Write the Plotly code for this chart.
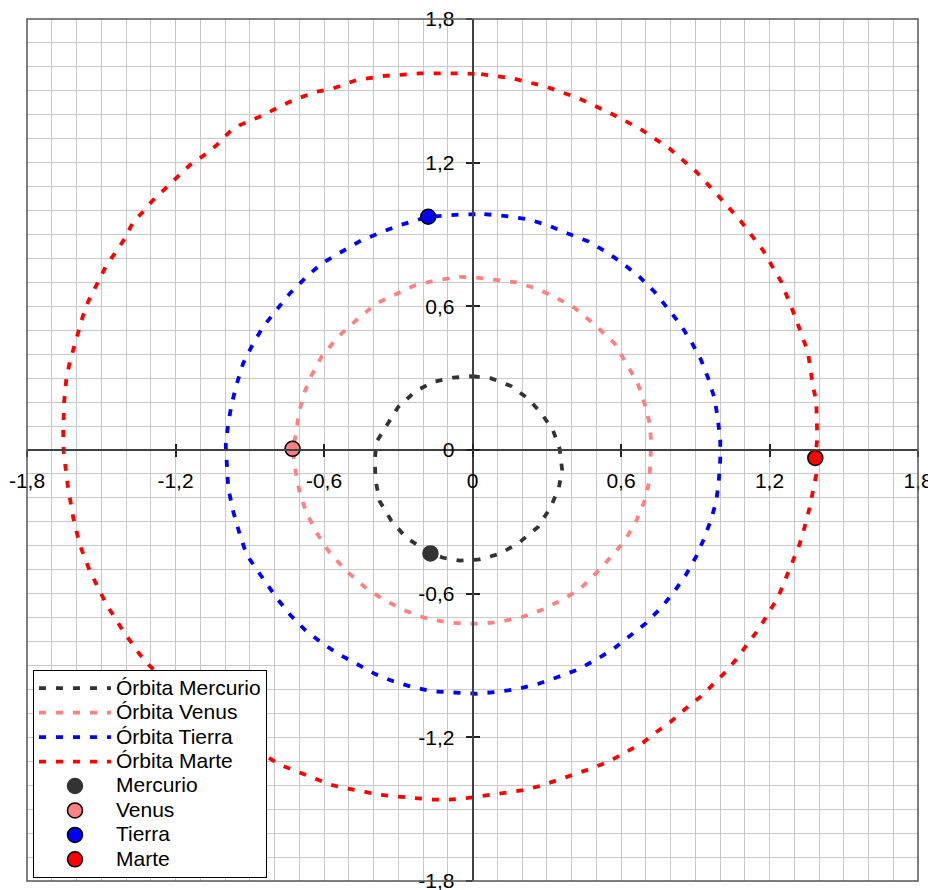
import plotly.graph_objects as go

# orbit points (AU)
merc_x = [0.001, 0.076, 0.156, 0.224, 0.277, 0.325, 0.352, 0.362, 0.349, 0.315, 0.264, 0.187, 0.109, 0.028,
          -0.051, -0.118, -0.17, -0.267, -0.327, -0.375, -0.391, -0.395, -0.388, -0.341, -0.3, -0.233, -0.159,
          -0.078, 0.001]
merc_y = [0.308, 0.299, 0.267, 0.215, 0.155, 0.083, 0.006, -0.081, -0.158, -0.241, -0.322, -0.388, -0.434, -0.457,
          -0.462, -0.45, -0.432, -0.367, -0.297, -0.214, -0.13, -0.047, 0.034, 0.111, 0.18, 0.243, 0.285,
          0.302, 0.308]

venus_x = [0.015, 0.096, 0.177, 0.257, 0.331, 0.412, 0.493, 0.574, 0.621, 0.668, 0.695, 0.715, 0.722, 0.72,
           0.715, 0.695, 0.661, 0.614, 0.52, 0.439, 0.365, 0.284, 0.203, 0.122, 0.048, -0.031, -0.112, -0.193,
           -0.267, -0.347, -0.428, -0.509, -0.577, -0.63, -0.671, -0.698, -0.714, -0.727, -0.714, -0.704, -0.684,
           -0.65, -0.61, -0.543, -0.462, -0.388, -0.307, -0.233, -0.145, -0.051, 0.015]
venus_y = [0.72, 0.712, 0.7, 0.675, 0.64, 0.594, 0.524, 0.445, 0.361, 0.278, 0.194, 0.114, 0.034, -0.05,
           -0.13, -0.214, -0.297, -0.381, -0.492, -0.576, -0.624, -0.666, -0.697, -0.715, -0.725, -0.726, -0.718,
           -0.701, -0.673, -0.632, -0.579, -0.506, -0.429, -0.346, -0.262, -0.179, -0.095, 0.005, 0.062, 0.139,
           0.229, 0.313, 0.389, 0.473, 0.549, 0.612, 0.654, 0.688, 0.709, 0.723, 0.72]

earth_x = [0.048, 0.136, 0.224, 0.311, 0.385, 0.466, 0.54, 0.607, 0.675, 0.735, 0.789, 0.84, 0.884, 0.924, 0.955,
           0.978, 0.991, 1.001, 1.001, 0.995, 0.985, 0.964, 0.937, 0.904, 0.863, 0.816, 0.762, 0.702, 0.634,
           0.567, 0.5, 0.426, 0.345, 0.264, 0.183, 0.102, 0.015, -0.065, -0.159, -0.24, -0.32, -0.395, -0.469,
           -0.543, -0.61, -0.678, -0.738, -0.792, -0.839, -0.873, -0.913, -0.94, -0.967, -0.987, -0.994, -0.997,
           -0.987, -0.974, -0.954, -0.927, -0.886, -0.846, -0.738, -0.678, -0.61, -0.529, -0.455, -0.381, -0.294,
           -0.179, -0.118, -0.038, 0.048]
earth_y = [0.985, 0.977, 0.964, 0.936, 0.904, 0.872, 0.828, 0.779, 0.723, 0.661, 0.591, 0.524, 0.452, 0.375,
           0.292, 0.215, 0.132, 0.041, -0.04, -0.13, -0.214, -0.29, -0.367, -0.444, -0.52, -0.59, -0.659, -0.722,
           -0.778, -0.833, -0.875, -0.917, -0.948, -0.977, -0.998, -1.01, -1.018, -1.014, -1.008, -0.991, -0.966,
           -0.935, -0.893, -0.851, -0.805, -0.75, -0.687, -0.617, -0.548, -0.499, -0.437, -0.353, -0.256, -0.158,
           -0.061, 0.02, 0.111, 0.187, 0.271, 0.361, 0.445, 0.515, 0.654, 0.716, 0.779, 0.828, 0.872, 0.904,
           0.939, 0.974, 0.978, 0.984, 0.985]

mars_x = [0.035, 0.163, 0.298, 0.432, 0.554, 0.675, 0.796, 0.904, 0.991, 1.086, 1.173, 1.247, 1.301, 1.355,
          1.375, 1.389, 1.393, 1.385, 1.389, 1.375, 1.362, 1.341, 1.321, 1.294, 1.267, 1.234, 1.2, 1.16, 1.119,
          1.065, 1.025, 0.971, 0.924, 0.857, 0.803, 0.729, 0.688, 0.614, 0.554, 0.48, 0.412, 0.331, 0.271, 0.197,
          0.129, 0.055, -0.017, -0.092, -0.159, -0.24, -0.307, -0.388, -0.442, -0.522, -0.576, -0.657, -0.711,
          -0.779, -0.832, -0.93, -1.05, -1.2, -1.31, -1.344, -1.411, -1.479, -1.519, -1.546, -1.587, -1.613,
          -1.634, -1.647, -1.652, -1.654, -1.65, -1.641, -1.627, -1.6, -1.573, -1.553, -1.519, -1.479, -1.445,
          -1.405, -1.371, -1.331, -1.297, -1.236, -1.142, -1.075, -1.034, -0.981, -0.94, -0.86, -0.805, -0.725,
          -0.63, -0.563, -0.469, -0.361, -0.307, -0.213, -0.065, 0.035]
mars_y = [1.57, 1.552, 1.517, 1.468, 1.408, 1.343, 1.259, 1.162, 1.064, 0.953, 0.835, 0.703, 0.563, 0.41,
          0.271, 0.201, 0.048, -0.033, -0.102, -0.172, -0.241, -0.325, -0.395, -0.464, -0.534, -0.617, -0.673,
          -0.743, -0.799, -0.875, -0.924, -0.98, -1.028, -1.084, -1.133, -1.188, -1.223, -1.265, -1.3, -1.33,
          -1.355, -1.383, -1.404, -1.422, -1.432, -1.439, -1.453, -1.46, -1.46, -1.453, -1.446, -1.439, -1.425,
          -1.411, -1.397, -1.363, -1.342, -1.314, -1.279, -1.22, -1.13, -1.0, -0.896, -0.854, -0.757, -0.645,
          -0.562, -0.506, -0.395, -0.283, -0.158, -0.061, -0.008, 0.076, 0.201, 0.299, 0.368, 0.466, 0.563,
          0.619, 0.688, 0.772, 0.821, 0.883, 0.953, 0.995, 1.037, 1.099, 1.19, 1.238, 1.273, 1.329, 1.357,
          1.392, 1.419, 1.461, 1.496, 1.51, 1.545, 1.562, 1.566, 1.573, 1.573, 1.57]

# current planet positions
planets = ['Mercurio', 'Venus', 'Tierra', 'Marte']
planet_x = [-0.17, -0.727, -0.179, 1.385]
planet_y = [-0.432, 0.005, 0.974, -0.033]
colors = ['#333333', '#ff8080', '#0000ff', '#ff0000']

tick_vals = [-1.8, -1.2, -0.6, 0, 0.6, 1.2, 1.8]
tick_text = ['-1,8', '-1,2', '-0,6', '0', '0,6', '1,2', '1,8']

FONT = 'Arial, Liberation Sans, sans-serif'

def big(txt):
    # legend rows are spaced from the legend font size, the text itself is drawn larger
    return '<span style="font-size:21px">' + txt + '</span>'

orbits = [(merc_x, merc_y), (venus_x, venus_y), (earth_x, earth_y), (mars_x, mars_y)]

fig = go.Figure()
for name, (ox, oy), c in zip(planets, orbits, colors):
    fig.add_trace(go.Scatter(x=ox, y=oy, mode='lines', name=big('Órbita ' + name),
                             line=dict(color=c, width=3.8, dash='7px,10px')))

for i, name in enumerate(planets):
    edge = colors[i] if name == 'Mercurio' else 'black'
    fig.add_trace(go.Scatter(x=[planet_x[i]], y=[planet_y[i]], mode='markers', name=big(name),
                             marker=dict(color=colors[i], size=15, line=dict(color=edge, width=1.5))))

# dummy trace on overlay axes, used only for the inner half of the tick marks
fig.add_trace(go.Scatter(x=[None], y=[None], xaxis='x2', yaxis='y2', showlegend=False, hoverinfo='skip'))

axis_common = dict(range=[-1.8, 1.8], tickvals=tick_vals, ticktext=tick_text,
                   showgrid=True, gridcolor='#c8c8c8', gridwidth=1,
                   minor=dict(dtick=0.1, showgrid=True, gridcolor='#c8c8c8', gridwidth=1),
                   zeroline=False, showline=True, linecolor='#404040', linewidth=1.5,
                   ticks='outside', ticklen=6, tickwidth=1.5, tickcolor='#222222',
                   tickfont=dict(family=FONT, size=21, color='black'),
                   ticklabeloverflow='allow',
                   anchor='free', position=0.5, automargin=False, fixedrange=True)

# page body adds 8px around the figure, so the figure is 8px smaller each way
fig.update_layout(
    width=928, height=882,
    margin=dict(l=19, r=18, t=11, b=9),
    paper_bgcolor='white', plot_bgcolor='white',
    font=dict(family=FONT, size=20, color='black'),
    xaxis=dict(axis_common, ticklabelstandoff=6),
    yaxis=dict(axis_common, ticklabelstandoff=7),
    xaxis2=dict(range=[-1.8, 1.8], tickvals=tick_vals, showticklabels=False, showgrid=False,
                zeroline=False, ticks='inside', ticklen=6, tickwidth=1.5, tickcolor='#222222',
                overlaying='x', anchor='free', position=0.5),
    yaxis2=dict(range=[-1.8, 1.8], tickvals=tick_vals, showticklabels=False, showgrid=False,
                zeroline=False, ticks='inside', ticklen=6, tickwidth=1.5, tickcolor='#222222',
                overlaying='y', anchor='free', position=0.5),
    legend=dict(x=0.0067, y=0.2448, xanchor='left', yanchor='top',
                bgcolor='white', bordercolor='black', borderwidth=1,
                font=dict(family=FONT, size=16.5, color='black'),
                itemwidth=72, tracegroupgap=0),
    showlegend=True,
    shapes=[dict(type='rect', xref='paper', yref='paper', x0=0, y0=0, x1=1, y1=1,
                 line=dict(color='#555555', width=1.5), layer='above')],
)

fig.write_html("out.html")
